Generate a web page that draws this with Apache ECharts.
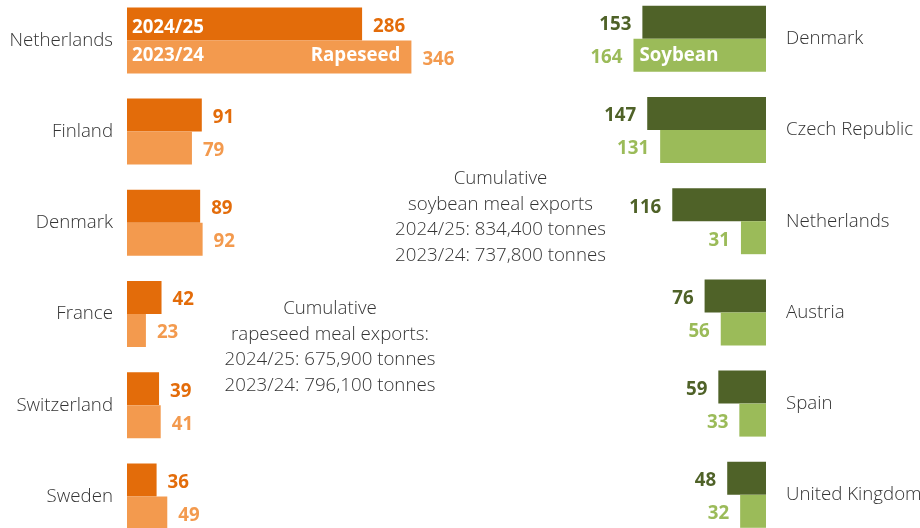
<!DOCTYPE html>
<html><head><meta charset="utf-8">
<script src="https://cdn.jsdelivr.net/npm/echarts@6/dist/echarts.min.js"></script>
<style>html,body{margin:0;padding:0;background:#fff}#c{width:920px;height:528px}</style>
</head><body><div id="c"></div>
<script>
// ---- data ----
const rapeCountries = ['Netherlands', 'Finland', 'Denmark', 'France', 'Switzerland', 'Sweden'];
const rape2425 = [286, 91, 89, 42, 39, 36];
const rape2324 = [346, 79, 92, 23, 41, 49];
const soyCountries = ['Denmark', 'Czech Republic', 'Netherlands', 'Austria', 'Spain', 'United Kingdom'];
const soy2425 = [153, 147, 116, 76, 59, 48];
const soy2324 = [164, 131, 31, 56, 33, 32];
const seasonLabels = ['2024/25', '2023/24'];
const cropLabels = ['Rapeseed', 'Soybean'];
const soyNote = ['Cumulative', 'soybean meal exports', '2024/25: 834,400 tonnes', '2023/24: 737,800 tonnes'];
const rapeNote = ['Cumulative', 'rapeseed meal exports:', '2024/25: 675,900 tonnes', '2023/24: 796,100 tonnes'];

// ---- style ----
const C = { rDark: '#E36C0A', rLight: '#F39A4E', sDark: '#4F6228', sLight: '#9BBB59', text: '#333333' };
const FONT = '"Open Sans", "Noto Sans", sans-serif';
const FS = 18.7;
const BW = 33;

const valLabel = (pos, color) => ({
  show: true, position: pos, distance: 11, color: color, offset: [0, 2.5],
  fontFamily: FONT, fontWeight: 'bold', fontSize: FS
});
const innerLabel = (pos, text, dist, dy) => ({
  show: true, position: pos, distance: dist, color: '#fff', offset: [0, dy],
  fontFamily: FONT, fontWeight: 'bold', fontSize: FS,
  formatter: p => (p.dataIndex === 0 ? text : '')
});
const bar = (name, xi, yi, data, color, label) => ({
  name, type: 'bar', xAxisIndex: xi, yAxisIndex: yi, data,
  barWidth: BW, barGap: 0, silent: true, animation: false,
  itemStyle: { color: color }, label: label || { show: false }
});

const catAxis = (gi, data, shown, pos, margin) => ({
  type: 'category', gridIndex: gi, data, inverse: true, position: pos,
  show: shown,
  axisLine: { show: false }, axisTick: { show: false }, splitLine: { show: false },
  axisLabel: { show: shown, margin: margin, color: C.text, fontFamily: FONT, fontWeight: 300, fontSize: FS,
    padding: [3, 0, 0, 0] }
});

const option = {
  backgroundColor: '#fff',
  grid: [
    { left: 127, top: -5.2, width: 328.8, height: 547.2, outerBoundsMode: 'none', containLabel: false },
    { left: 604.4, top: -6.8, width: 161.6, height: 547.2, outerBoundsMode: 'none', containLabel: false }
  ],
  xAxis: [
    { type: 'value', gridIndex: 0, min: 0, max: 400, show: false },
    { type: 'value', gridIndex: 1, min: 0, max: 200, inverse: true, show: false }
  ],
  yAxis: [
    catAxis(0, rapeCountries, true, 'left', 14),
    catAxis(0, rapeCountries, false, 'left', 14),
    catAxis(0, rapeCountries, false, 'left', 14),
    catAxis(1, soyCountries, true, 'right', 20),
    catAxis(1, soyCountries, false, 'right', 20)
  ],
  series: [
    bar('Rapeseed 2024/25', 0, 0, rape2425, C.rDark, valLabel('right', C.rDark)),
    bar('Rapeseed 2023/24', 0, 0, rape2324, C.rLight, valLabel('right', C.rLight)),
    bar('r-a', 0, 1, rape2425, 'rgba(0,0,0,0)', innerLabel('insideLeft', seasonLabels[0], 5, 3.5)),
    bar('r-b', 0, 1, rape2324, 'rgba(0,0,0,0)', innerLabel('insideLeft', seasonLabels[1], 5, -1)),
    bar('r-c', 0, 2, rape2425, 'rgba(0,0,0,0)'),
    bar('r-d', 0, 2, rape2324, 'rgba(0,0,0,0)', innerLabel('insideRight', cropLabels[0], 11, -1)),
    bar('Soybean 2024/25', 1, 3, soy2425, C.sDark, valLabel('left', C.sDark)),
    bar('Soybean 2023/24', 1, 3, soy2324, C.sLight, valLabel('left', C.sLight)),
    bar('s-a', 1, 4, soy2425, 'rgba(0,0,0,0)'),
    bar('s-b', 1, 4, soy2324, 'rgba(0,0,0,0)', innerLabel('insideLeft', cropLabels[1], 6, 0))
  ],
  graphic: [
    { type: 'text', x: 500.5, y: 166, silent: true,
      style: { text: soyNote.join('\n'), align: 'center', verticalAlign: 'top', lineHeight: 25.5,
        fill: C.text, font: '300 ' + FS + 'px ' + FONT } },
    { type: 'text', x: 330, y: 296, silent: true,
      style: { text: rapeNote.join('\n'), align: 'center', verticalAlign: 'top', lineHeight: 25.5,
        fill: C.text, font: '300 ' + FS + 'px ' + FONT } }
  ]
};

const chart = echarts.init(document.getElementById('c'), null, { renderer: 'canvas' });
chart.setOption(option);
</script>
</body></html>
